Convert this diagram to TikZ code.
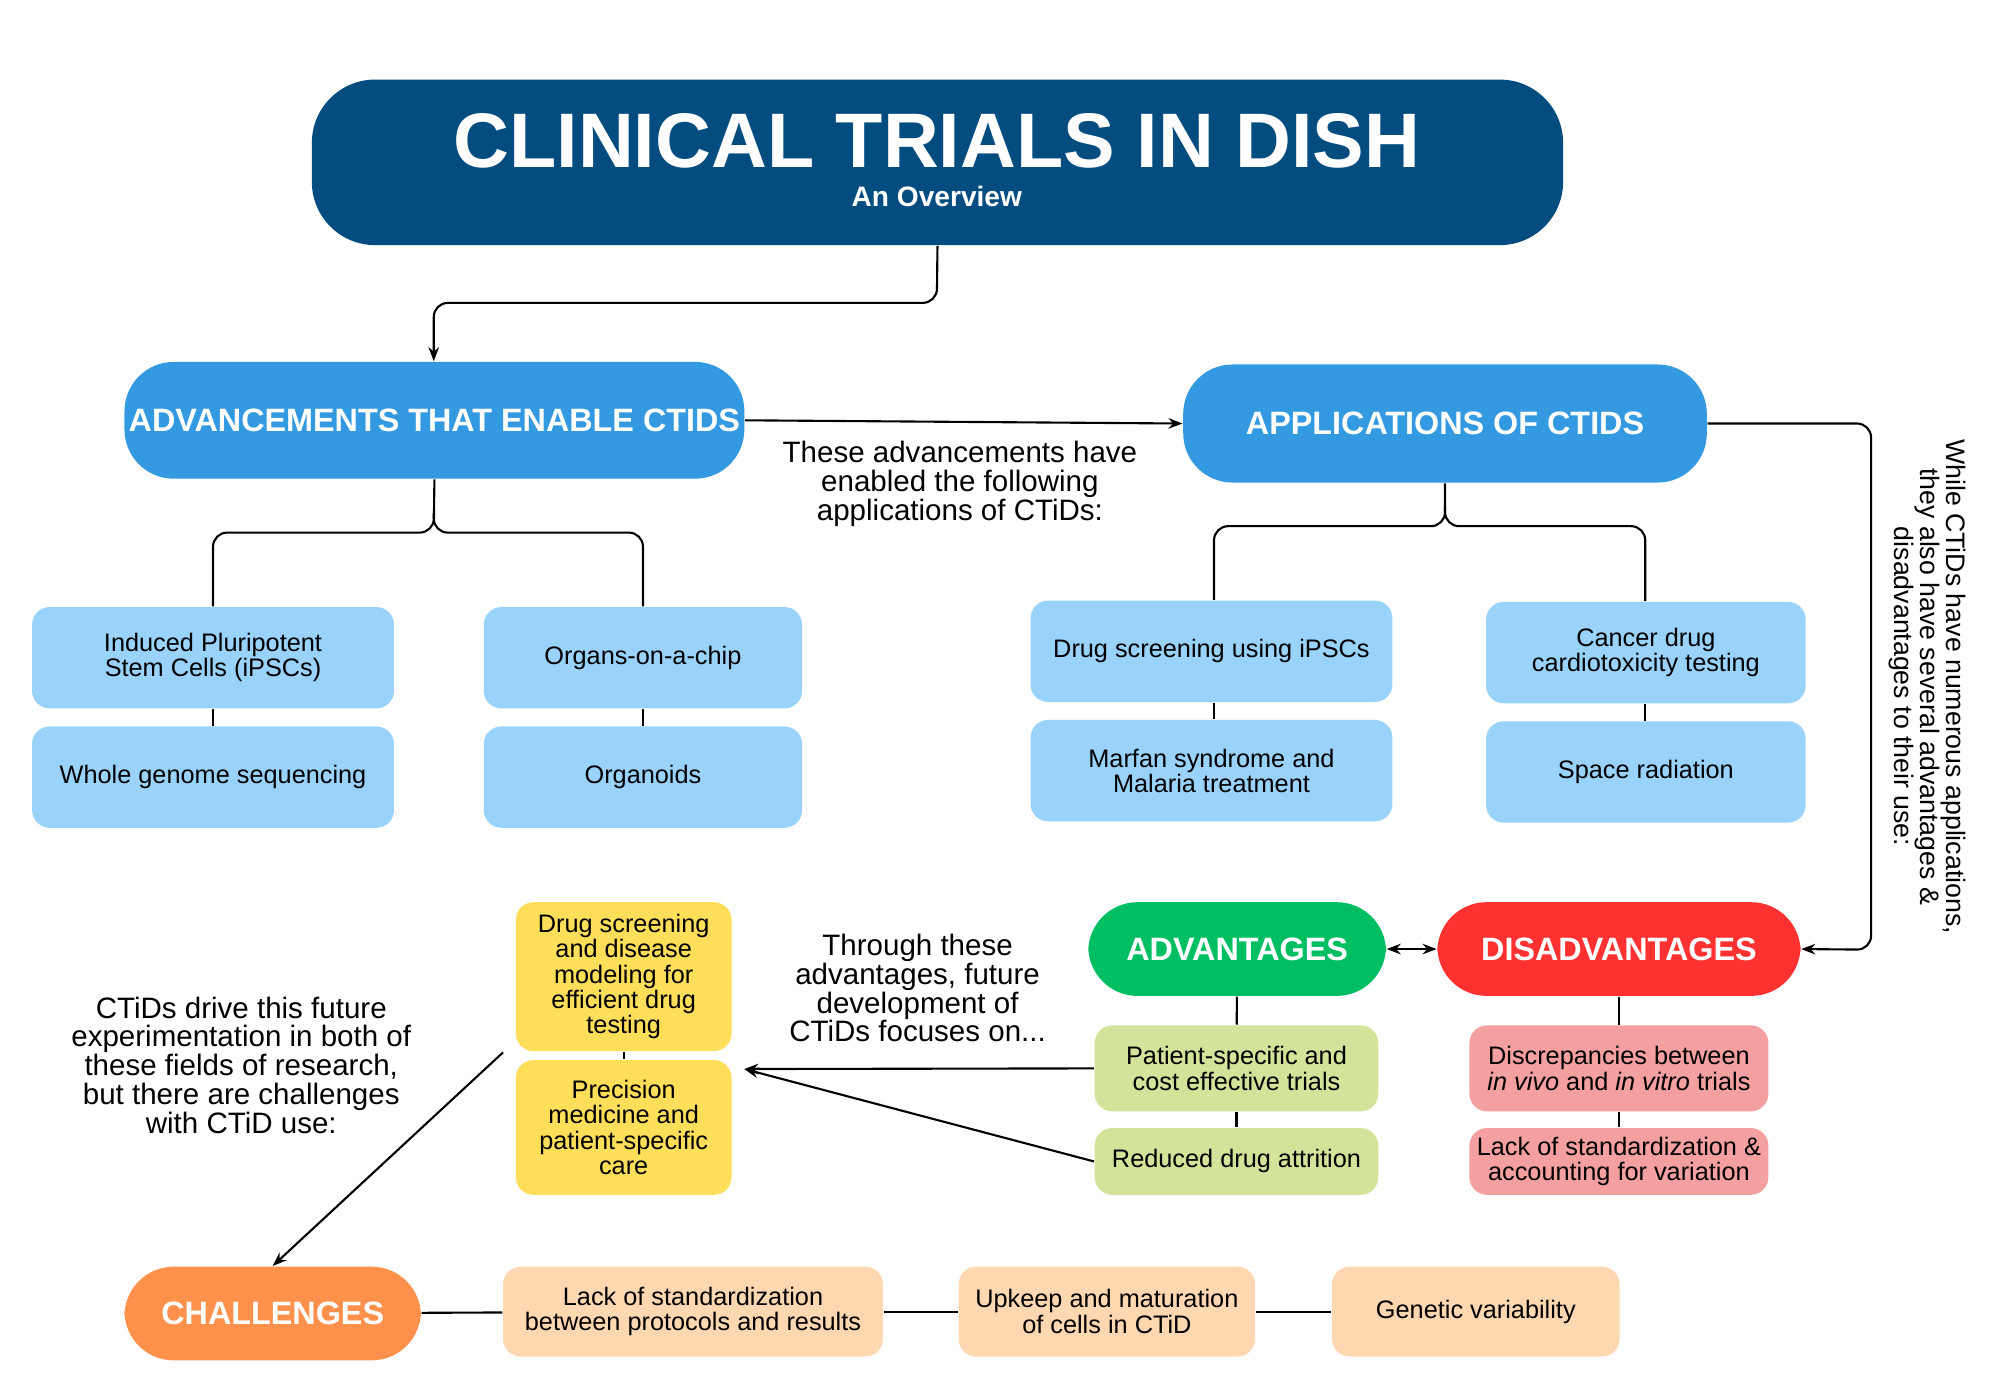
\documentclass[tikz,border=0pt]{standalone}
\usepackage{fontspec}
\setmainfont{Liberation Sans}
\usetikzlibrary{arrows.meta}
\definecolor{navy}{HTML}{034C80}
\definecolor{hblue}{HTML}{3399E0}
\definecolor{lblue}{HTML}{99D3FB}
\definecolor{gr}{HTML}{00BF63}
\definecolor{rd}{HTML}{FF3131}
\definecolor{lgr}{HTML}{D4E39A}
\definecolor{pk}{HTML}{F4A0A0}
\definecolor{yl}{HTML}{FFDE59}
\definecolor{org}{HTML}{FF914D}
\definecolor{pch}{HTML}{FFD8B1}
\begin{document}
\begin{tikzpicture}[x=0.01283cm,y=-0.01283cm,
 box/.style={rounded corners=5pt,align=center,font=\fontsize{7.2}{7.2}\selectfont,inner sep=0pt},
 pill/.style={rounded corners=14pt,align=center,text=white,font=\bfseries\fontsize{9.2}{9.2}\selectfont,inner sep=0pt},
 ln/.style={line width=0.6pt},
 ar/.style={ln,-{Stealth[length=4pt,width=3pt]}},
 note/.style={align=center,font=\fontsize{8.4}{8.2}\selectfont}]
\useasboundingbox (0,0) rectangle (1560,1090);
\def\bx#1#2#3#4#5#6#7{\node[#2,fill=#3,minimum width={(#6-#4)*0.01283cm},minimum height={(#7-#5)*0.01283cm}] (#1) at ({(#4+#6)/2},{(#5+#7)/2})}
% title
\bx{t}{pill,rounded corners=18pt}{navy}{243}{62}{1218}{191}{};
\node[text=white,font=\bfseries\fontsize{22}{22}\selectfont] at (730,110) {CLINICAL TRIALS IN DISH};
\node[text=white,font=\bfseries\fontsize{8}{8}\selectfont] at (730,153) {An Overview};
\bx{adv}{pill}{hblue}{97}{282}{580}{373}{ADVANCEMENTS THAT ENABLE CTIDS};
\bx{app}{pill}{hblue}{922}{284}{1330}{376}{APPLICATIONS OF CTIDS};
\bx{ips}{box}{lblue}{25}{473}{307}{552}{Induced Pluripotent\\Stem Cells (iPSCs)};
\bx{wgs}{box}{lblue}{25}{566}{307}{645}{Whole genome sequencing};
\bx{ooc}{box}{lblue}{377}{473}{625}{552}{Organs-on-a-chip};
\bx{org}{box}{lblue}{377}{566}{625}{645}{Organoids};
\bx{dsi}{box}{lblue}{803}{468}{1085}{547}{Drug screening using iPSCs};
\bx{mar}{box}{lblue}{803}{561}{1085}{640}{Marfan syndrome and\\Malaria treatment};
\bx{can}{box}{lblue}{1158}{469}{1407}{548}{Cancer drug\\cardiotoxicity testing};
\bx{spa}{box}{lblue}{1158}{562}{1407}{641}{Space radiation};
\bx{av}{pill}{gr}{848}{703}{1080}{776}{ADVANTAGES};
\bx{dv}{pill}{rd}{1120}{703}{1403}{776}{DISADVANTAGES};
\bx{pat}{box}{lgr}{853}{799}{1074}{866}{Patient-specific and\\cost effective trials};
\bx{red}{box}{lgr}{853}{879}{1074}{931}{Reduced drug attrition};
\bx{dis}{box}{pk}{1145}{799}{1378}{866}{Discrepancies between\\\textit{in vivo} and \textit{in vitro} trials};
\bx{lac}{box}{pk}{1145}{879}{1378}{931}{Lack of standardization \&\\accounting for variation};
\bx{y1}{box}{yl}{402}{703}{570}{819}{Drug screening\\and disease\\modeling for\\efficient drug\\testing};
\bx{y2}{box}{yl}{402}{826}{570}{931}{Precision\\medicine and\\patient-specific\\care};
\bx{ch}{pill}{org}{97}{987}{328}{1060}{CHALLENGES};
\bx{c1}{box}{pch}{392}{987}{688}{1057}{Lack of standardization\\between protocols and results};
\bx{c2}{box}{pch}{747}{987}{978}{1057}{Upkeep and maturation\\of cells in CTiD};
\bx{c3}{box}{pch}{1038}{987}{1262}{1057}{Genetic variability};
% connectors
\draw[ar,rounded corners=4pt] (t.south) -- (730,236) -- (338,236) -- (adv.north -| 338,0);
\draw[ar] (adv.east) -- (app.west);
\draw[ln,rounded corners=4pt] (adv.south) -- (338,415) -- (166,415) -- (ips.north);
\draw[ln,rounded corners=4pt] (338,400) -- (338,415) -- (501,415) -- (ooc.north);
\draw[ln,rounded corners=4pt] (app.south) -- (1126,410) -- (946,410) -- (dsi.north -| 946,0);
\draw[ln,rounded corners=4pt] (1126,395) -- (1126,410) -- (1282,410) -- (can.north -| 1282,0);
\draw[ln] (ips) -- (wgs); \draw[ln] (ooc) -- (org);
\draw[ln] (dsi.south -| 946,0) -- (mar.north -| 946,0);
\draw[ln] (can.south -| 1282,0) -- (spa.north -| 1282,0);
\draw[ar,rounded corners=4pt] (app.east) -- (1458,330) -- (1458,740) -- (dv.east);
\draw[ln,{Stealth[length=4pt,width=3pt]}-{Stealth[length=4pt,width=3pt]}] (av.east) -- (dv.west);
\draw[ln] (av) -- (pat); \draw[ln] (pat) -- (red);
\draw[ln] (dv) -- (dis); \draw[ln] (dis) -- (lac);
\draw[ln] (y1) -- (y2);
\coordinate (yt) at (580,833);
\draw[ar] (pat.west) -- (yt);
\draw[ar] (red.west) -- (yt);
\coordinate (s) at (392,820);
\draw[ar] (s) -- (ch.north);
\draw[ln] (ch) -- (c1); \draw[ln] (c1) -- (c2); \draw[ln] (c2) -- (c3);
% notes
\node[note] at (748,377) {These advancements have\\enabled the following\\applications of CTiDs:};
\node[note] at (715,770) {Through these\\advantages, future\\development of\\CTiDs focuses on...};
\node[note] at (188,830) {CTiDs drive this future\\experimentation in both of\\these fields of research,\\but there are challenges\\with CTiD use:};
\node[note,rotate=-90,font=\fontsize{7.6}{7.4}\selectfont] at (1502,535) {While CTiDs have numerous applications,\\they also have several advantages \&\\disadvantages to their use:};
\end{tikzpicture}
\end{document}
